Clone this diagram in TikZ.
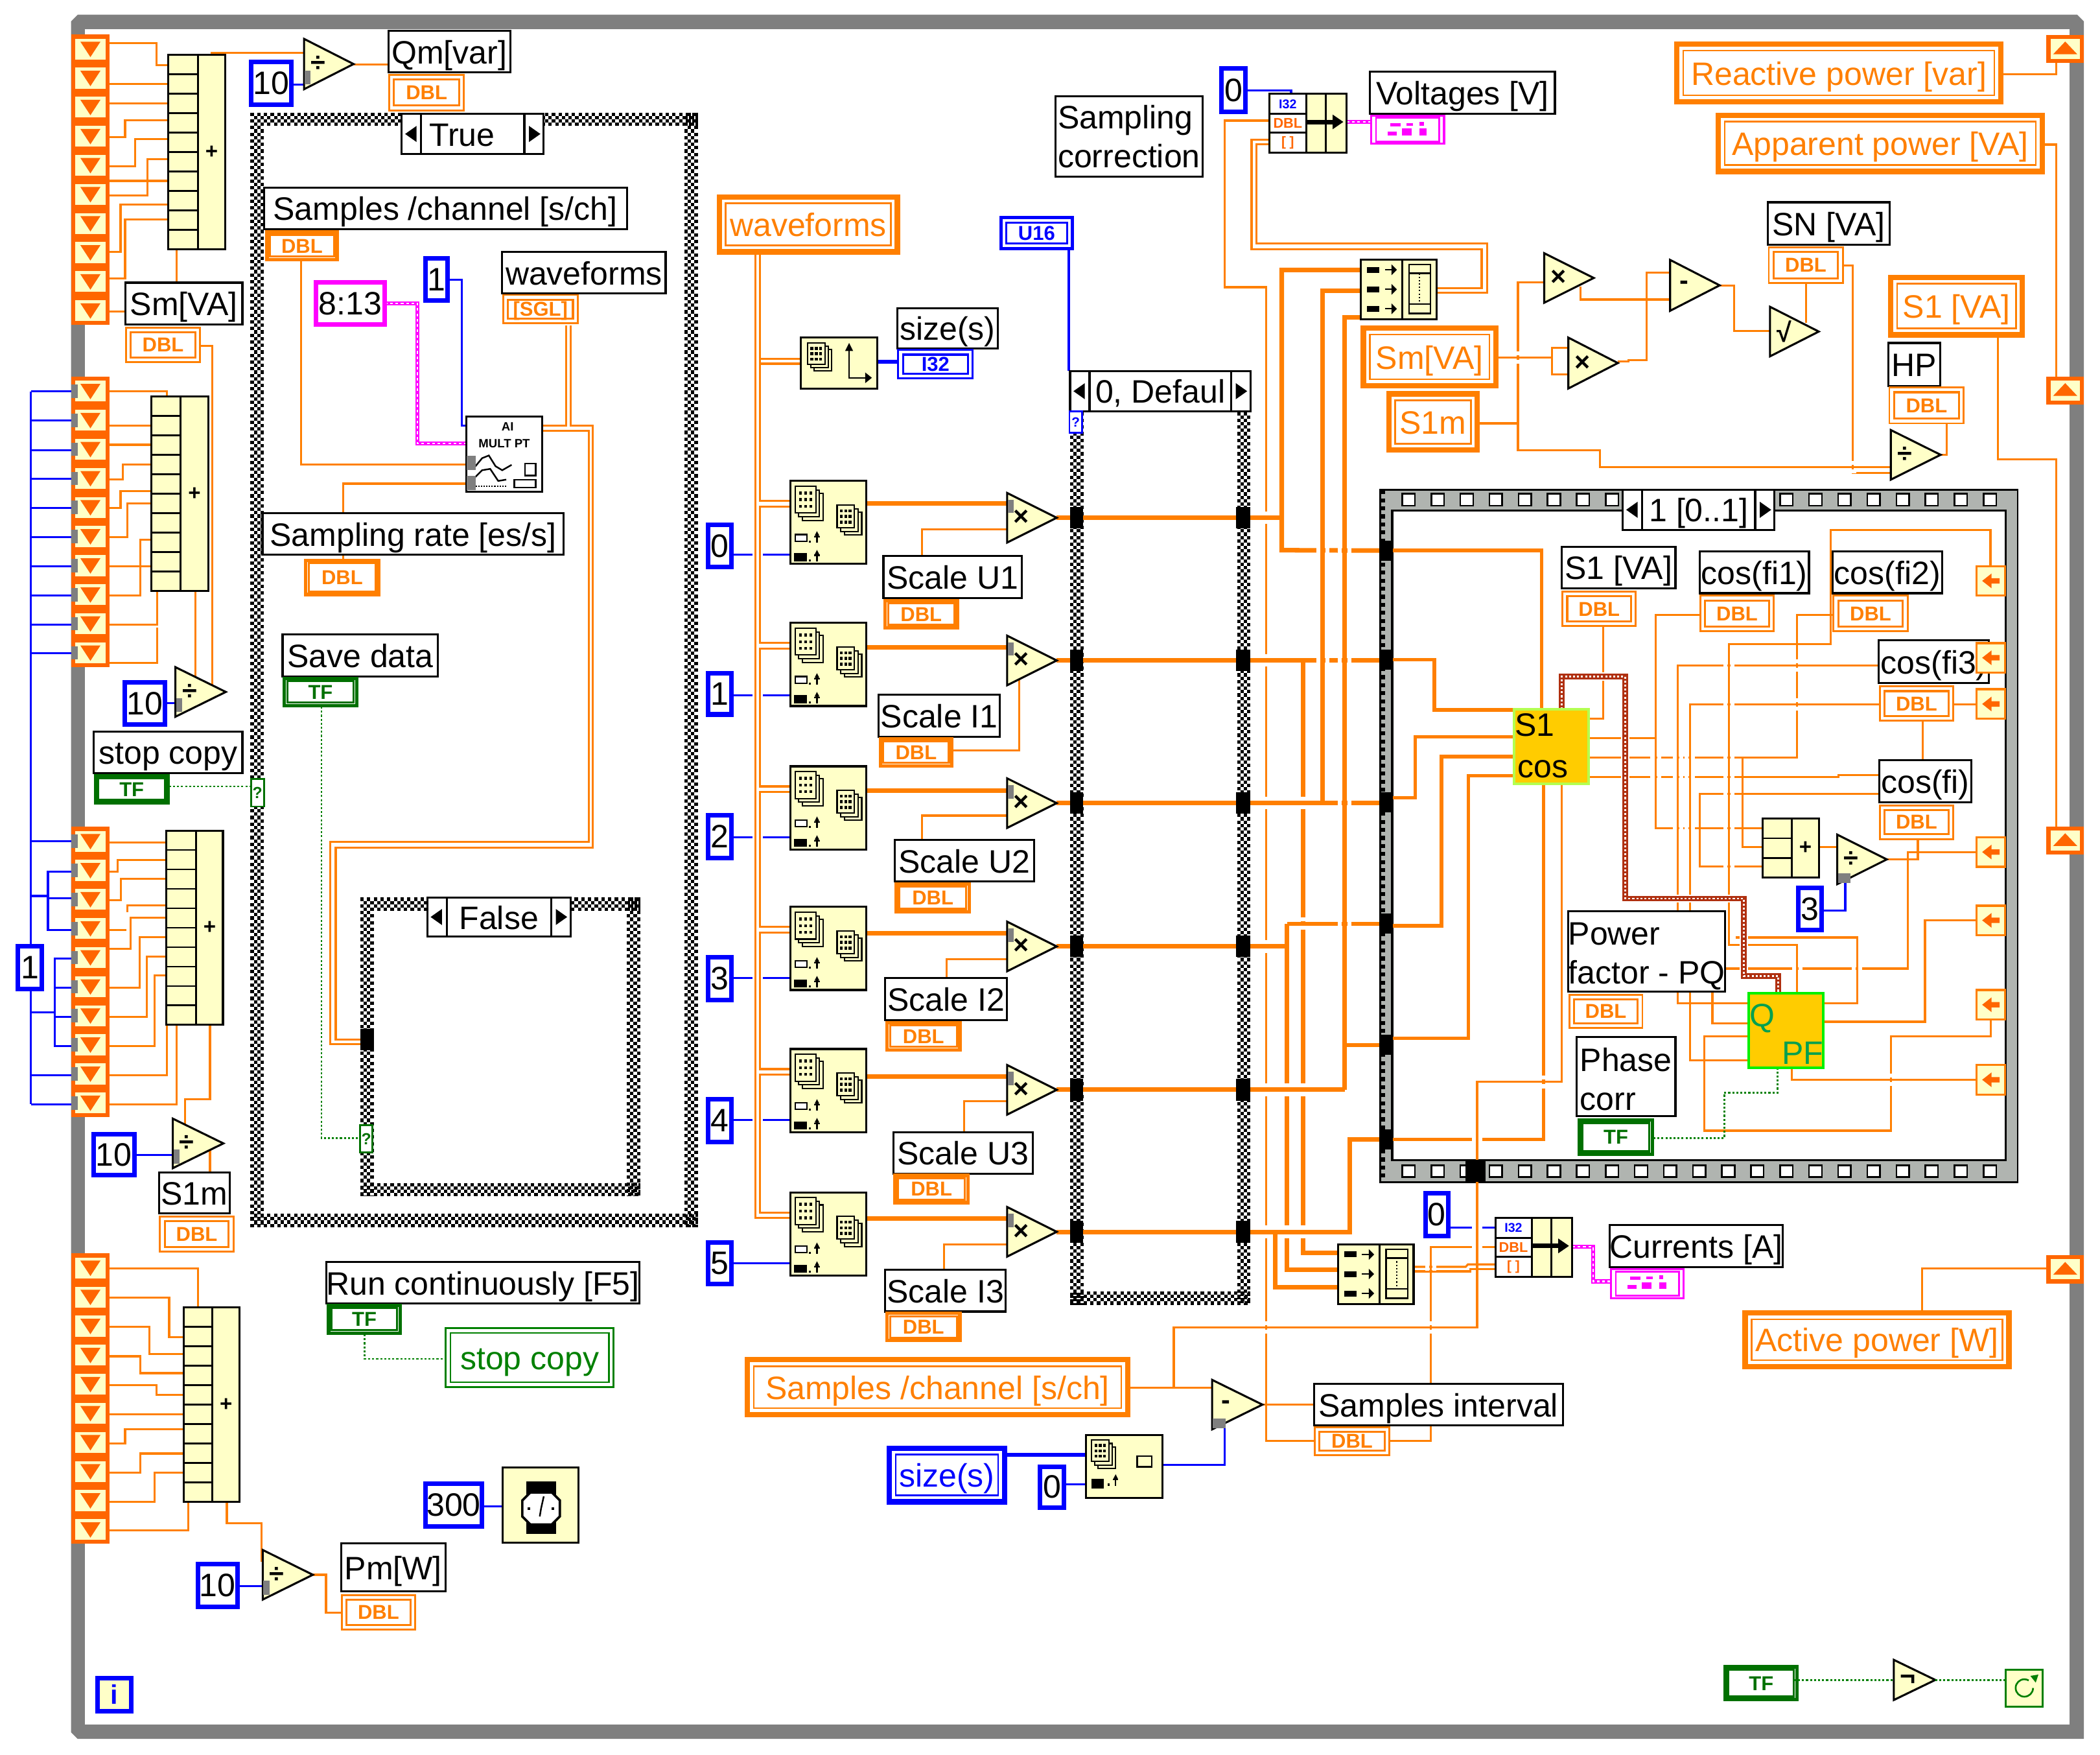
\documentclass[tikz,border=0pt]{standalone}
\usepackage{fontspec}
\setmainfont{Liberation Sans}
\usetikzlibrary{calc}
\pgfdeclarelayer{bgl}\pgfdeclarelayer{wires}
\pgfsetlayers{bgl,wires,main}
\definecolor{wo}{HTML}{FF7F00}
\definecolor{ro}{HTML}{FF6600}
\definecolor{yl}{HTML}{FFFFC8}
\definecolor{frm}{HTML}{7F7F7F}
\definecolor{sqg}{HTML}{B0B4B0}
\definecolor{gold}{HTML}{FFCC00}
\definecolor{lime}{HTML}{B4FF50}
\definecolor{grn}{HTML}{00F000}
\definecolor{teal2}{HTML}{00A050}
\definecolor{dgrn}{HTML}{007000}
\definecolor{mgrn}{HTML}{008000}
\definecolor{bluew}{HTML}{0000FF}
\definecolor{magw}{HTML}{FF00FF}
\definecolor{brn}{HTML}{B03010}
\tikzset{
 lab/.style={draw=black,line width=1.5pt,fill=white,text=black,align=left,font=\fontsize{24.2}{29}\selectfont},
 lab1/.style={draw=black,line width=1.5pt,fill=white,text=black,text height=18pt,text depth=0pt,font=\fontsize{24.2}{29}\selectfont},
 num/.style={draw=bluew,line width=3.4pt,fill=white,text=black,font=\fontsize{24.2}{29}\selectfont},
 tagin/.style={line width=1.5pt,fill=white,text height=10.5pt,text depth=0pt,font=\bfseries\fontsize{15}{16}\selectfont},
 ctlin/.style={line width=1.2pt,fill=white,text height=18pt,text depth=0pt,font=\fontsize{24.2}{29}\selectfont},
 iconb/.style={draw=black,line width=1.5pt,fill=yl},
 tun/.style={fill=black},
 wt/.style={draw=wo,line width=1.5pt},
 wm/.style={draw=wo,line width=2.7pt},
 wk/.style={draw=wo,line width=3.4pt},
 wb/.style={draw=bluew,line width=1.5pt},
 wbk/.style={draw=bluew,line width=2.6pt},
 wg/.style={draw=mgrn,line width=1.3pt,dash pattern=on 1.5pt off 1.5pt},
 wmag/.style={draw=magw,line width=3pt,postaction={draw=white,line width=1pt,dash pattern=on 2pt off 2pt}},
 wbrn/.style={preaction={draw=white,line width=6pt},draw=brn,line width=4.2pt,postaction={draw=white,line width=1.3pt,dash pattern=on 1.5pt off 1.5pt}},
}
\newcommand\nbox[7]{%
 \pgfmathsetmacro\nW{(#5)-(#3)}\pgfmathsetmacro\nH{(#6)-(#4)}%
 \pgfmathsetmacro\nX{((#3)+(#5))/2}\pgfmathsetmacro\nY{((#4)+(#6))/2}%
 \node[#1,minimum width=\nW pt,minimum height=\nH pt,inner sep=0pt,outer sep=0pt] (#2) at (\nX,\nY) {#7};}
\newcommand\lab[6]{\nbox{lab1}{#1}{#2}{#3}{#4}{#5}{#6}}
\newcommand\labm[6]{\nbox{lab}{#1}{#2}{#3}{#4}{#5}{#6}}
\newcommand\numb[6]{\nbox{num}{#1}{(#2)+1.7}{(#3)+1.7}{(#4)-1.7}{(#5)-1.7}{#6}}
\def\tgap{2.8}
% style, outer width, name, x1,y1,x2,y2,text,colour
\newcommand\tgbase[9]{%
 \path[draw=#9,fill=white,line width=#2pt] ({#4+#2/2},{#5+#2/2}) rectangle ({#6-#2/2},{#7-#2/2});
 \nbox{#1,draw=#9,text=#9}{#3}{#4+#2+\tgap}{#5+#2+\tgap}{#6-#2-\tgap}{#7-#2-\tgap}{#8}}
\newcommand\tgt[6]{\tgbase{tagin,text=ro}{1.4}{#1}{#2}{#3}{#4}{#5}{#6}{wo}}
\newcommand\tgk[6]{{\def\tgap{0.9}\tgbase{tagin}{2.6}{#1}{#2}{#3}{#4}{#5}{#6}{wo}}}
\newcommand\tfk[6]{{\def\tgap{0.9}\tgbase{tagin}{2.6}{#1}{#2}{#3}{#4}{#5}{#6}{dgrn}}}
\newcommand\ctl[6]{\tgbase{ctlin}{4}{#1}{#2}{#3}{#4}{#5}{#6}{wo}}
% name,x1,y1,x2,y2,sym,greykind
\newcommand\tri[7]{%
 \pgfmathsetmacro\tM{(#3+#5)/2}%
 \draw[iconb] (#2,#3)--(#4,\tM)--(#2,#5)--cycle;
 \coordinate (#1-tip) at (#4,\tM);\coordinate (#1-w) at (#2,\tM);
 \node[inner sep=0pt,font=\bfseries\fontsize{20}{20}\selectfont] (#1) at ({#2+10.5},\tM) {#6};
 \ifnum#7=1 \fill[frm] (#2+0.5,{#5-14}) rectangle ({#2+5},{#5-3.5});\fi
 \ifnum#7=2 \fill[frm] (#2+0.5,{#3+5}) rectangle ({#2+5},{#3+15});\fi
 \ifnum#7=3 \fill[frm] (#2+0.5,{#5-8}) rectangle ({#2+10},{#5-1});\fi}
% name,x1,y1,xm,x2,y2,rows
\newcommand\addn[7]{%
 \nbox{iconb}{#1}{#2}{#3}{#5}{#6}{}
 \draw[black,line width=1.5pt] (#4,#3)--(#4,#6);
 \foreach \k in {1,...,#7}{\draw[black,line width=1.3pt] (#2,{#3+(#6-#3)*\k/#7})--(#4,{#3+(#6-#3)*\k/#7});}
 \node[inner sep=0pt,font=\bfseries\fontsize{16}{16}\selectfont] (#1-p) at ({(#4+#5)/2},{(#3+#6)/2}) {+};}
% prefix, ytop, grey
\newcommand\regs[3]{%
 \nbox{fill=ro}{#1}{53}{#2}{82}{#2+217}{}
 \foreach \i in {0,...,9}{%
  \pgfmathsetmacro\cy{#2+11+21.7*\i}%
  \nbox{fill=yl}{#1c\i}{56}{\cy-7.8}{79}{\cy+7.8}{}
  \fill[ro] (60,\cy-5.5)--(75,\cy-5.5)--(67.5,\cy+6)--cycle;
  \ifnum#3=1 \fill[frm] (53,\cy-5)--(58,\cy-5)--(58,\cy+5)--(53,\cy+5)--cycle;\fi}}
\newcommand\stackg[5]{% x,y,w,h,offset
 \foreach \d in {2,1,0}{\draw[black,line width=1pt,fill=yl] ({#1+\d*#5},{#2+\d*#5}) rectangle ({#1+\d*#5+#3},{#2+\d*#5+#4});}
 \foreach \a in {1,2,3}{\foreach \b in {1,2,3}{\fill[black] ({#1+#3*\a/4-1.1},{#2+#4*\b/4-1.1}) rectangle ({#1+#3*\a/4+1.1},{#2+#4*\b/4+1.1});}}}
\newcommand\arrv[2]{\draw[black,line width=1pt] (#1,#2)--(#1,{#2+7}) ({#1-2},{#2+2.5})--({#1+2},{#2+2.5}); \fill[black] ({#1-1.8},{#2+2})--(#1,{#2-1.5})--({#1+1.8},{#2+2})--cycle;\fill[black] ({#1-6},{#2+5.5}) rectangle ({#1-4.6},{#2+7});}
\newcommand\idxicon[3]{%
 \nbox{iconb}{#1}{#2}{#3}{#2+57}{#3+62}{}
 \stackg{#2+3.7}{#3+4}{15.5}{20}{2.7}
 \stackg{#2+35}{#3+18}{13}{17}{2.7}
 \draw[black,line width=1pt,fill=white] ({#2+3.7},{#3+40}) rectangle ({#2+12.4},{#3+45});
 \arrv{#2+20}{#3+39}
 \fill[black] ({#2+3},{#3+54}) rectangle ({#2+12.4},{#3+60});
 \arrv{#2+20}{#3+53}}
\newcommand\bldicon[3]{%
 \nbox{iconb}{#1}{#2}{#3}{#2+56.5}{#3+44.5}{}
 \draw[black,line width=1.5pt] ({#2+31},#3)--({#2+31},{#3+44.5});
 \foreach \r in {7.4,22,36.5}{\fill[black] ({#2+4.8},{#3+\r-2.2}) rectangle ({#2+14},{#3+\r+2.2});
  \fill[black] ({#2+23},{#3+\r-4})--({#2+27},{#3+\r})--({#2+23},{#3+\r+4})--cycle;\draw[black,line width=1pt] ({#2+18},{#3+\r})--({#2+24},{#3+\r});}
 \draw[black,line width=1.2pt] ({#2+36},{#3+3.5}) rectangle ({#2+52},{#3+40});
 \draw[black,line width=1.2pt] ({#2+36},{#3+10})--({#2+52},{#3+10}) ({#2+36},{#3+33})--({#2+52},{#3+33});
 \draw[black,line width=1pt,dash pattern=on 1pt off 1.5pt] ({#2+44},{#3+10})--({#2+44},{#3+33});}
\newcommand\bunicon[5]{% name,x,y,output y base, dummy
 \nbox{iconb}{#1}{#2}{#3}{#2+57.5}{#3+44}{}
 \fill[white] (#2+0.8,#3+0.8) rectangle ({#2+27},{#3+43.2});
 \draw[black,line width=1.5pt] ({#2+27.4},#3)--({#2+27.4},{#3+44}) ({#2+42},#3)--({#2+42},{#3+44});
 \draw[black,line width=1.3pt] (#2,{#3+15})--({#2+27.4},{#3+15}) (#2,{#3+29})--({#2+27.4},{#3+29});
 \node[inner sep=0pt,text=bluew,font=\bfseries\fontsize{9.5}{9}\selectfont] (#1-i) at ({#2+13.5},{#3+7.7}) {I32};
 \node[inner sep=0pt,text=ro,font=\bfseries\fontsize{10.5}{9}\selectfont] (#1-d) at ({#2+13.5},{#3+22}) {DBL};
 \node[inner sep=0pt,text=ro,font=\bfseries\fontsize{10}{9}\selectfont] (#1-a) at ({#2+13.5},{#3+36.5}) {[ ]};
 \draw[black,line width=3.4pt] ({#2+27},{#3+21})--({#2+49},{#3+21});
 \fill[black] ({#2+47},{#3+15.5})--({#2+55},{#3+21})--({#2+47},{#3+26.5})--cycle;}
\newcommand\selbox[6]{%
 \nbox{lab1}{#1}{#2}{#3}{#4}{#5}{#6}
 \draw[black,line width=1.5pt] ({#2+14.5},#3)--({#2+14.5},#5) ({#4-14.5},#3)--({#4-14.5},#5);
 \fill[black] ({#2+11},{(#3+#5)/2-6})--({#2+2.5},{(#3+#5)/2})--({#2+11},{(#3+#5)/2+6})--cycle;
 \fill[black] ({#4-11},{(#3+#5)/2-6})--({#4-2.5},{(#3+#5)/2})--({#4-11},{(#3+#5)/2+6})--cycle;}
\newcommand\outT[3]{% name,y1,y2
 \nbox{draw=wo,line width=1.6pt,fill=yl}{#1}{1475.8}{#2}{1497}{#3}{}
 \fill[ro] (1480,{(#2+#3)/2})--(1487,{(#2+#3)/2-5.5})--(1487,{(#2+#3)/2-2})--(1493,{(#2+#3)/2-2})--(1493,{(#2+#3)/2+2})--(1487,{(#2+#3)/2+2})--(1487,{(#2+#3)/2+5.5})--cycle;}
\newcommand\upT[3]{%
 \nbox{draw=ro,line width=3pt,fill=yl}{#1}{1529.5}{#2+1.5}{1554.5}{#3-1.5}{}
 \fill[ro] (1533,{#3-6.5})--(1542,{#2+5})--(1551,{#3-6.5})--cycle;}
\newcommand\hatchf[4]{%
 \fill[white] (#1,#2) rectangle (#3,#4);
 \foreach \k/\p in {0/0,1/2.5,2/0,3/2.5}{%
  \draw[black,line width=2.5pt,dash pattern=on 2.5pt off 2.5pt,dash phase=\p pt] (#1,{#2+1.25+2.5*\k})--(#3,{#2+1.25+2.5*\k});
  \draw[black,line width=2.5pt,dash pattern=on 2.5pt off 2.5pt,dash phase=\p pt] (#1,{#4-1.25-2.5*\k})--(#3,{#4-1.25-2.5*\k});
  \draw[black,line width=2.5pt,dash pattern=on 2.5pt off 2.5pt,dash phase=\p pt] ({#1+1.25+2.5*\k},#2)--({#1+1.25+2.5*\k},#4);
  \draw[black,line width=2.5pt,dash pattern=on 2.5pt off 2.5pt,dash phase=\p pt] ({#3-1.25-2.5*\k},#2)--({#3-1.25-2.5*\k},#4);}}
\newcommand\wavg[2]{%
 \fill[magw] ({#1+15},{#2+7}) rectangle ({#1+23},{#2+9.5});
 \fill[magw] ({#1+27},{#2+7}) rectangle ({#1+32},{#2+9});
 \fill[magw] ({#1+37},{#2+6}) rectangle ({#1+40},{#2+9});
 \fill[magw] ({#1+13},{#2+13}) rectangle ({#1+20},{#2+16});
 \fill[magw] ({#1+24},{#2+11}) rectangle ({#1+31},{#2+16});
 \fill[magw] ({#1+37},{#2+11}) rectangle ({#1+42},{#2+16});}
\newcommand\cutH[2]{\foreach \x/\y in {#2}{\fill[white] ({\x-#1-3},{\y-3}) rectangle ({\x-#1},{\y+3}); \fill[white] ({\x+#1},{\y-3}) rectangle ({\x+#1+3},{\y+3});}}
\newcommand\cutV[2]{\foreach \x/\y in {#2}{\fill[white] ({\x-3},{\y-#1-3}) rectangle ({\x+3},{\y-#1}); \fill[white] ({\x-3},{\y+#1}) rectangle ({\x+3},{\y+#1+3});}}
\begin{document}
\begin{tikzpicture}[x=1pt,y=-1pt]
\useasboundingbox (0,0) rectangle (1568,1309.6);
\begin{pgfonlayer}{bgl}
 \fill[white] (0,0) rectangle (1568,1309.6);
 \fill[frm] (58,11)--(1551,11)--(1556,16)--(1556,1298)--(58,1298)--(53,1293)--(53,16)--cycle;
 \fill[white] (63.5,22) rectangle (1545,1287.4);
 % case structures
 \hatchf{187}{84}{521}{916}
 \hatchf{269}{670}{478}{893}
 \hatchf{799}{290}{933.7}{974}
 % sequence
 \draw[black,line width=1.4pt,fill=sqg] (1030.5,365.5) rectangle (1506.5,882.5);
 \draw[black,line width=1.5pt,fill=white] (1039.5,381) rectangle (1497.5,866);
 \draw[black,line width=3pt,dash pattern=on 3pt off 3pt] (1032.5,366)--(1032.5,882);
 \foreach \k in {0,...,20}{
  \draw[black,line width=1.2pt,fill=white] ({1047+21.7*\k},368.5) rectangle ({1056.5+21.7*\k},377.5);
  \draw[black,line width=1.2pt,fill=white] ({1047+21.7*\k},870) rectangle ({1056.5+21.7*\k},878.5);}
\end{pgfonlayer}

% ------- shift registers
\regs{ra}{25.6}{0}
\regs{rb}{281}{1}
\regs{rc}{617}{1}
\regs{rd}{935.5}{0}
\addn{adda}{125.5}{41}{148}{168}{186}{10}
\addn{addb}{113}{296}{134.8}{155.5}{441}{10}
\addn{addc}{124}{620}{146.6}{166.5}{765}{10}
\addn{addd}{137}{976}{158.5}{179}{1121}{10}
\addn{adde}{1316}{611}{1338}{1358}{655}{3}
% ------- triangles
\tri{da}{227}{29}{264}{66.6}{÷}{1}
\tri{db}{131}{498}{168.6}{535}{÷}{1}
\tri{dc}{129}{835}{166.8}{872}{÷}{1}
\tri{dd}{196.2}{1157}{233.6}{1194}{÷}{1}
\tri{de}{1411.8}{321}{1449}{358}{÷}{0}
\tri{df}{1371.8}{623}{1408.8}{660}{÷}{3}
\tri{ma}{752}{368}{789}{405}{×}{2}
\tri{mb}{752}{474.5}{789}{511.5}{×}{2}
\tri{mc}{752}{581}{789}{618}{×}{2}
\tri{md}{752}{688}{789}{725}{×}{2}
\tri{me}{752}{795}{789}{832}{×}{2}
\tri{mf}{752}{901}{789}{938}{×}{2}
\tri{mg}{1153}{189}{1190}{226}{×}{0}
\tri{mh}{1171}{252}{1208}{290}{×}{0}
\tri{sa}{1247}{194}{1284}{232}{-}{0}
\tri{sq}{1321.6}{229}{1358}{266}{√}{0}
\tri{sb}{905}{1030}{942.6}{1067}{-}{3}
\tri{nt}{1414}{1239}{1445}{1269}{¬}{0}
% ------- constants
\numb{ka}{186}{44.4}{219}{80}{10}
\numb{kb}{91.5}{507.5}{125}{542.5}{10}
\numb{kc}{68}{845}{102}{879}{10}
\numb{kd}{146}{1166}{179}{1201}{10}
\numb{ke}{11.5}{704.6}{33}{740}{1}
\numb{kf}{316}{191}{336}{226}{1}
\numb{kg}{316}{1106}{361.6}{1141}{300}
\numb{c0}{527}{390}{548}{425}{0}
\numb{c1}{527}{501}{548}{535}{1}
\numb{c2}{527}{607}{548}{642}{2}
\numb{c3}{527}{713}{548}{748}{3}
\numb{c4}{527}{819}{548}{854}{4}
\numb{c5}{527}{926}{548}{960}{5}
\numb{kh}{910.5}{49.5}{931.5}{85}{0}
\numb{ki}{1062.5}{889}{1083}{924.5}{0}
\numb{kj}{775}{1093}{796}{1127}{0}
\numb{kk}{1341}{661}{1362}{696}{3}
\nbox{draw=magw,line width=3.4pt,fill=white,font=\fontsize{24.2}{29}\selectfont}{kl}{235.7}{210.7}{287.3}{242.3}{8:13}
\tgbase{tagin}{2.6}{ku}{746}{161}{802}{187}{U16}{bluew}
\nbox{draw=bluew,line width=3.4pt,fill=yl,text=bluew,font=\bfseries\fontsize{20}{20}\selectfont}{iter}{73}{1252.7}{98}{1277.3}{i}
% ------- labels
\lab{qm}{290}{23}{381}{54}{Qm[var]}
\tgt{qmd}{290}{55}{347}{83}{DBL}
\selbox{st}{300}{85}{406}{115}{True\kern16pt}
\lab{sp}{197}{140}{468}{171}{Samples /channel [s/ch]}
\tgk{spd}{198}{172}{253}{195}{DBL}
\lab{wf}{375}{188}{497}{219}{waveforms}
\tgt{wfd}{375}{219.5}{432}{242}{[SGL]}
\lab{sr}{196}{383}{421}{414}{Sampling rate [es/s]}
\tgk{srd}{227}{417}{284}{445}{DBL}
\lab{smv}{93.5}{211}{181}{242}{Sm[VA]}
\tgt{smd}{93.5}{244}{150}{271}{DBL}
\lab{sd}{211}{473.5}{327}{505}{Save data}
\tfk{sdt}{211}{505}{267.6}{528}{TF}
\lab{sc}{70}{546}{181}{577}{stop copy}
\tfk{sct}{70}{577.6}{126.7}{600.5}{TF}
\lab{s1l}{118.8}{875}{171.4}{905.6}{S1m}
\tgt{s1d}{118.8}{907.5}{175}{935}{DBL}
\selbox{fa}{319}{670}{426}{699}{False}
\lab{run}{244}{942}{477}{973}{Run continuously [F5]}
\tfk{runt}{244}{973}{300}{996.5}{TF}
\tgbase{ctlin}{1.5}{scg}{332}{990.6}{459}{1036}{stop copy}{mgrn}
\lab{pm}{254.6}{1152}{332.7}{1188}{Pm[W]}
\tgt{pmd}{254.6}{1190}{310.6}{1217}{DBL}
\ctl{wfo}{535}{145}{672}{190}{waveforms}
\lab{szl}{670}{230}{745}{260}{size(s)}
\tgbase{tagin}{1.4}{szd}{670}{260.5}{727}{283}{I32}{bluew}
\lab{su1}{659.6}{415}{763}{446.5}{Scale U1}
\tgk{su1d}{659.6}{447}{716}{470}{DBL}
\lab{si1}{656}{518.5}{746.6}{550}{Scale I1}
\tgk{si1d}{656}{550}{712}{573}{DBL}
\lab{su2}{668}{627}{772}{658}{Scale U2}
\tgk{su2d}{668}{658.5}{725}{682}{DBL}
\lab{si2}{661}{730}{752}{761.5}{Scale I2}
\tgk{si2d}{661}{762}{718}{785}{DBL}
\lab{su3}{667}{845}{771}{876}{Scale U3}
\tgk{su3d}{667}{876}{724}{899}{DBL}
\lab{si3}{661}{948}{751}{979}{Scale I3}
\tgk{si3d}{661}{979}{718}{1002}{DBL}
\selbox{ca}{799}{277}{933.7}{307}{0, Defaul}
\nbox{draw=bluew,line width=1.4pt,fill=white,text=bluew,font=\bfseries\fontsize{10}{10}\selectfont}{caq}{798.5}{307}{808}{323}{?}
\nbox{draw=dgrn,line width=1.4pt,fill=white,text=dgrn,font=\bfseries\fontsize{12}{12}\selectfont}{sq1}{187.5}{581.5}{197}{602}{?}
\nbox{draw=dgrn,line width=1.4pt,fill=white,text=dgrn,font=\bfseries\fontsize{12}{12}\selectfont}{sq2}{269}{840}{278}{860}{?}
\labm{corr}{788}{72}{898}{132}{Sampling\\correction}
\lab{vl}{1023}{53.5}{1161}{85}{Voltages [V]}
\tgbase{ctlin}{1.6}{vw}{1023}{85.5}{1079}{108}{}{magw}
\wavg{1023}{85}
\ctl{rp}{1250}{31}{1496}{78}{Reactive power [var]}
\ctl{ap}{1281}{84}{1526.8}{130}{Apparent power [VA]}
\ctl{smo}{1016}{243}{1119}{290}{Sm[VA]}
\ctl{s1o}{1035}{292}{1105}{338}{S1m}
\lab{sn}{1320}{151}{1411}{182.5}{SN [VA]}
\tgt{snd}{1320}{184}{1376.6}{212}{DBL}
\ctl{s1v}{1409.7}{205}{1512}{252}{S1 [VA]}
\lab{hp}{1410}{256}{1448.6}{288}{HP}
\tgt{hpd}{1410}{288.6}{1467}{316.7}{DBL}
\ctl{act}{1301}{978}{1502}{1022}{Active power [W]}
\ctl{smpo}{556}{1013}{844}{1058}{Samples /channel [s/ch]}
\tgbase{ctlin,text=bluew}{4}{szo}{662}{1079}{752}{1123}{size(s)}{bluew}
\lab{si}{981}{1033}{1167}{1064}{Samples interval}
\tgt{sid}{981}{1064.5}{1038}{1087}{DBL}
\lab{cu}{1202}{914.5}{1331}{946}{Currents [A]}
\tgbase{ctlin}{1.6}{cw}{1202}{946.4}{1258}{970}{}{magw}
\wavg{1202}{946}
\tfk{tfe}{1287}{1243}{1343}{1270}{TF}
% ------- icons
\foreach \nn/\yy in {ia/359,ib/465,ic/572,id/677,ie/783,if/890}{\idxicon{\nn}{590}{\yy}}
\nbox{iconb}{asz}{598}{252}{655}{290}{}
\stackg{603}{256}{13}{16}{2.5}
\draw[black,line width=1pt] (634,258)--(634,282)--(648,282);
\fill[black] (646,278)--(651,282)--(646,286)--cycle;
\fill[black] (631,262)--(634,256)--(637,262)--cycle;
\nbox{iconb}{isz}{811}{1071}{868}{1118}{}
\stackg{815}{1075}{13}{16}{2.5}
\fill[black] (815,1104) rectangle (824,1111);
\arrv{833}{1102}
\draw[black,line width=1.3pt] (849,1087) rectangle (860,1095);
\bldicon{baa}{1016}{194}
\bldicon{bab}{999}{929}
\bunicon{bua}{948}{70}{}{}
\bunicon{bub}{1116.5}{909}{}{}
% AI
\nbox{draw=black,line width=1.5pt,fill=white}{ai}{348}{311}{405}{367}{}
\node[inner sep=0pt,font=\bfseries\fontsize{9}{9}\selectfont] (ai-a) at (379,318.5) {AI};
\node[inner sep=0pt,font=\bfseries\fontsize{9}{9}\selectfont] (ai-b) at (376.5,331) {MULT PT};
\draw[black,line width=1.2pt] (355,348)--(360,342)--(365,340)--(370,348)--(375,351)--(382,347);
\draw[black,line width=1.2pt] (355,356)--(360,351)--(366,350)--(372,359)--(378,358);
\draw[black,line width=1pt,dash pattern=on 1pt off 1pt] (355,363)--(378,363);
\draw[black,line width=1.2pt] (392,346) rectangle (400,355);
\draw[black,line width=1.2pt] (384,358) rectangle (400,364);
\fill[frm] (348.5,340)--(355,340)--(355,351)--(348.5,351)--cycle;
\fill[frm] (348.5,355)--(355,355)--(355,366)--(348.5,366)--cycle;
% wait
\nbox{iconb}{wt}{375.5}{1095.5}{432}{1151.7}{}
\fill[black] (393,1106) rectangle (415,1116);
\fill[black] (393,1136) rectangle (415,1145);
\draw[black,line width=1.8pt,fill=white] (396,1114)--(412,1114)--(418,1120)--(418,1132)--(412,1138)--(396,1138)--(390,1132)--(390,1120)--cycle;
\draw[black,line width=1.2pt] (404,1126)--(406,1117) (404,1126)--(403,1132);
\fill[black] (394,1125) rectangle (396,1127); \fill[black] (412,1125) rectangle (414,1127);
% stop
\nbox{draw=mgrn,line width=1.4pt,fill=yl}{stp}{1497.5}{1246.5}{1525}{1274}{}
\draw[mgrn,line width=1.3pt] (1518,1260) arc (0:300:6.5);
\fill[mgrn] (1516,1251)--(1522,1250)--(1520,1256)--cycle;
% ------- sequence content
\selbox{sel}{1211.7}{365.5}{1325}{395.6}{1 [0..1]}
\lab{s1i}{1166}{408}{1251}{439}{S1 [VA]}
\tgt{s1id}{1166}{441}{1222}{468}{DBL}
\lab{f1}{1269}{411.6}{1350.7}{442.8}{cos(fi1)}
\tgt{f1d}{1269}{444}{1325}{472}{DBL}
\lab{f2}{1368.3}{411.6}{1450}{442.8}{cos(fi2)}
\tgt{f2d}{1368.3}{444}{1425}{472}{DBL}
\lab{f3}{1402.8}{478}{1485}{510}{cos(fi3)}
\tgt{f3d}{1403}{511.7}{1459}{538.7}{DBL}
\lab{f0}{1403}{567.4}{1472}{598.7}{cos(fi)}
\tgt{f0d}{1403}{600.4}{1459}{627}{DBL}
\nbox{draw=lime,line width=2pt,fill=gold}{sca}{1130.5}{529.5}{1186}{585}{}
\node[inner sep=0pt,font=\fontsize{24.2}{29}\selectfont] (sca-a) at (1146,541) {S1};
\node[inner sep=0pt,font=\fontsize{24.2}{29}\selectfont] (sca-b) at (1152,574) {cos};
\nbox{draw=grn,line width=2pt,fill=gold}{qpf}{1305.5}{741.5}{1361.5}{797}{}
\node[inner sep=0pt,text=teal2,font=\fontsize{24.2}{29}\selectfont] (qpf-a) at (1316,760) {Q};
\node[inner sep=0pt,text=teal2,font=\fontsize{24.2}{29}\selectfont] (qpf-b) at (1346,786) {PF};
\labm{pf}{1171}{680}{1288}{740}{\rule{0pt}{24pt}Power\\factor - PQ}
\tgt{pfd}{1171}{741.7}{1227}{768}{DBL}
\labm{pc}{1177}{774}{1251}{833.3}{\rule{0pt}{21pt}Phase\\corr}
\tfk{pct}{1178}{834.7}{1235}{863}{TF}
\outT{oa}{422.6}{444.6}
\outT{ob}{480}{502}
\outT{oc}{514.5}{536.5}
\outT{od}{625}{647}
\outT{oe}{676}{698}
\outT{og}{739}{761}
\outT{oh}{795}{817}
\upT{ua}{26}{47}
\upT{ub}{281}{302}
\upT{uc}{617}{638}
\upT{ud}{937}{958}
% ------- tunnels
\foreach \nn/\yy in {a/386.5,b/493,c/599.5,d/706.5,e/813.5,f/919.5}{
 \nbox{tun}{tl\nn}{799}{\yy-8}{808.7}{\yy+8}{}
 \nbox{tun}{tr\nn}{923}{\yy-8}{933.7}{\yy+8}{}}
\foreach \nn/\yy in {a/411,b/492.5,c/599,d/689.5,e/780,f/850.5}{
 \nbox{tun}{ts\nn}{1030}{\yy-7.5}{1040}{\yy+7.5}{}}
\nbox{tun}{tsz}{1094}{866}{1109}{882}{}
\nbox{tun}{tfa}{269}{768}{279}{784}{}

% ======= WIRES
\begin{pgfonlayer}{wires}
% group a
\draw[wt] (rac0.east|-0,32)--(117,32)--(117,48.6)--(adda.west|-0,48.6);
\draw[wt] (rac1.east|-0,62.8)--(adda.west|-0,62.8);
\draw[wt] (rac2.east|-0,77)--(adda.west|-0,77);
\draw[wt] (rac3.east|-0,102.5)--(93.4,102.5)--(93.4,89.7)--(adda.west|-0,89.7);
\draw[wt] (rac4.east|-0,124)--(101,124)--(101,104)--(adda.west|-0,104);
\draw[wt] (rac5.east|-0,135)--(adda.west|-0,135);
\draw[wt] (rac5.east|-0,146)--(110,146)--(110,118.6)--(adda.west|-0,118.6);
\draw[wt] (rac7.east|-0,188)--(90,188)--(90,152.8)--(adda.west|-0,152.8);
\draw[wt] (rac8.east|-0,208)--(93.4,208)--(93.4,164)--(adda.west|-0,164);
\draw[wt] (rac9.east|-0,232.5)--(smv.west|-0,232.5);
\draw[wt] (adda.north-|158,0)--(158,39.4)--(da-w|-0,39.4);
\draw[wt] (adda.south-|131.7,0)--(smv.north-|131.7,0);
\draw[wb] (ka.east|-0,63)--(da-w|-0,63);
\draw[wt] (da-tip|-0,48)--(qm.west|-0,48);
\draw[wt] (smd.east|-0,258)--(158.7,258)--(158.7,512);
% group b
\foreach \yy in {292.2,314,336,357.5,379,401,422.6,444.5,466.2,487.6}{\draw[wb] (23,\yy)--(rb.west|-0,\yy);}
\draw[wb] (23,292.2)--(23,824.2);
\draw[wt] (rbc0.east|-0,292.2)--(124.6,292.2)--(addb.north-|124.6,0);
\draw[wt] (rbc1.east|-0,317.5)--(addb.west|-0,317.5);
\draw[wt] (rbc2.east|-0,332)--(addb.west|-0,332);
\draw[wt] (rbc3.east|-0,357.8)--(91.7,357.8)--(91.7,346.7)--(addb.west|-0,346.7);
\draw[wt] (rbc4.east|-0,379)--(90,379)--(90,366.7)--(addb.west|-0,366.7);
\draw[wt] (rbc5.east|-0,401)--(95,401)--(95,375.6)--(addb.west|-0,375.6);
\draw[wt] (rbc6.east|-0,422.6)--(addb.west|-0,422.6);
\draw[wt] (rbc7.east|-0,444.5)--(104.6,444.5)--(104.6,402.8)--(addb.west|-0,402.8);
\draw[wt] (rbc8.east|-0,466.2)--(117.2,466.2)--(addb.south-|117.2,0);
\draw[wt] (rbc9.east|-0,495)--(117.2,495)--(117.2,468.5);
\draw[wt] (addb.south-|146,0)--(146,506);
\draw[wb] (kb.east|-0,525)--(db-w|-0,525);
\draw[wg] (sct.east|-0,587)--(sq1.west|-0,587);
% group c
\draw[wb] (23,627.8)--(rc.west|-0,627.8);
\draw[wb] (23,668.8)--(35.8,668.8);
\draw[wb] (rc.west|-0,650.7)--(35.8,650.7)--(35.8,694)--(rc.west|-0,694);
\draw[wb] (35.8,670.5)--(rc.west|-0,670.5);
\draw[wb] (23,755.6)--(41,755.6);
\draw[wb] (rc.west|-0,715.7)--(41,715.7)--(41,780.8)--(rc.west|-0,780.8);
\draw[wb] (41,737.5)--(rc.west|-0,737.5);
\draw[wb] (41,759)--(rc.west|-0,759);
\draw[wb] (23,802.5)--(rc.west|-0,802.5);
\draw[wb] (23,824.2)--(rc.west|-0,824.2);
\draw[wt] (rcc0.east|-0,629)--(addc.west|-0,629);
\draw[wt] (rcc1.east|-0,650.7)--(87.8,650.7)--(87.8,641.8)--(addc.west|-0,641.8);
\draw[wt] (rcc2.east|-0,671.8)--(90.3,671.8)--(90.3,656.2)--(addc.west|-0,656.2);
\draw[wt] (rcc3.east|-0,694)--(94.4,694);
\draw[wt] (95.1,681)--(95.1,676)--(addc.west|-0,676);
\draw[wt] (rcc4.east|-0,708.4)--(97.3,708.4)--(97.3,684.9)--(addc.west|-0,684.9);
\draw[wt] (rcc5.east|-0,737.4)--(104.4,737.4)--(104.4,699.6)--(addc.west|-0,699.6);
\draw[wt] (rcc6.east|-0,759.1)--(109.8,759.1)--(109.8,714)--(addc.west|-0,714);
\draw[wt] (rcc7.east|-0,780.8)--(115.3,780.8)--(115.3,728)--(addc.west|-0,728);
\draw[wt] (rcc8.east|-0,802.5)--(124.5,802.5)--(addc.south-|124.5,0);
\draw[wt] (rcc9.east|-0,824.2)--(131.7,824.2)--(addc.south-|131.7,0);
\draw[wt] (addc.south-|156.8,0)--(156.8,820.4)--(138.3,820.4)--(138.3,842);
\draw[wb] (kc.east|-0,862)--(dc-w|-0,862);
\draw[wt] (156.8,858)--(s1l.north-|156.8,0);
% group d
\draw[wt] (rdc0.east|-0,947)--(148,947)--(addd.north-|148,0);
\draw[wt] (rdc1.east|-0,968.8)--(126.3,968.8)--(126.3,998.2)--(addd.west|-0,998.2);
\draw[wt] (rdc2.east|-0,990.6)--(111.7,990.6)--(111.7,1010.5)--(addd.west|-0,1010.5);
\draw[wt] (rdc3.east|-0,1012.4)--(104.6,1012.4)--(104.6,1025)--(addd.west|-0,1025);
\draw[wt] (rdc4.east|-0,1034)--(117,1034)--(117,1041.3)--(addd.west|-0,1041.3);
\draw[wt] (rdc5.east|-0,1055.8)--(addd.west|-0,1055.8);
\draw[wt] (rdc6.east|-0,1077.6)--(93.4,1077.6)--(93.4,1067)--(addd.west|-0,1067);
\draw[wt] (rdc7.east|-0,1099.4)--(104.6,1099.4)--(104.6,1085)--(addd.west|-0,1085);
\draw[wt] (rdc8.east|-0,1121)--(115.4,1121)--(115.4,1099.2)--(addd.west|-0,1099.2);
\draw[wt] (rdc9.east|-0,1142.5)--(140.5,1142.5)--(addd.south-|140.5,0);
\draw[wt] (addd.south-|169.4,0)--(169.4,1137)--(195.2,1137)--(195.2,1166);
\draw[wb] (kd.east|-0,1184)--(dd-w|-0,1184);
\draw[wt] (dd-tip)--(243.4,1175.5)--(243.4,1204)--(pmd.west|-0,1204);
\draw[wb] (kg.east|-0,1124.3)--(wt.west|-0,1124.3);
\draw[wg] (runt.south-|272.3,0)--(272.3,1014.4)--(scg.west|-0,1014.4);
% true case
\draw[wt] (spd.south-|225,0)--(225,346.7)--(ai.west|-0,346.7);
\draw[wt] (sr.north-|256.3,0)--(256.3,361)--(ai.west|-0,361);
\draw[wt] (sr.south-|256.3,0)--(srd.north-|256.3,0);
\draw[wmag] (kl.east|-0,226.4)--(311.7,226.4)--(311.7,331)--(ai.west|-0,331);
\draw[wb] (kf.east|-0,209)--(344.6,209)--(344.6,317.5)--(ai.west|-0,317.5);
\draw[wt] (ai.east|-0,317.5)--(422.7,317.5)--(422.7,243);
\draw[wt] (426,243)--(426,317.5)--(442.4,317.5)--(442.4,632.8)--(250.7,632.8)--(250.7,775.8)--(tfa.west|-0,775.8);
\draw[wt] (ai.east|-0,321.4)--(439.6,321.4)--(439.6,628.4)--(246.7,628.4)--(246.7,779.4)--(tfa.west|-0,779.4);
\draw[wg] (sdt.south-|240,0)--(240,849.7)--(sq2.west|-0,849.7);
% index arrays
\foreach \nn/\c/\yy in {ia/c0/413.8,ib/c1/519,ic/c2/625,id/c3/730,ie/c4/836,if/c5/943}{\draw[wb] (\c.east|-0,\yy)--(\nn.west|-0,\yy);}
\foreach \yy in {413.8,519,625,730,836}{\fill[white] (562,\yy-3) rectangle (569.5,\yy+3);}
\draw[wt] (wfo.south-|564,0)--(564,909)--(if.west|-0,909);
\draw[wt] (wfo.south-|567.3,0)--(567.3,374)--(ia.west|-0,374);
\draw[wt] (ia.west|-0,378)--(567.3,378)--(567.3,480)--(ib.west|-0,480);
\draw[wt] (ib.west|-0,484)--(567.3,484)--(567.3,587)--(ic.west|-0,587);
\draw[wt] (ic.west|-0,591)--(567.3,591)--(567.3,692)--(id.west|-0,692);
\draw[wt] (id.west|-0,696)--(567.3,696)--(567.3,798)--(ie.west|-0,798);
\draw[wt] (ie.west|-0,802)--(567.3,802)--(567.3,905)--(if.west|-0,905);
\draw[wt] (567.3,268)--(asz.west|-0,268);
\draw[wt] (567.3,271.5)--(asz.west|-0,271.5);
\draw[wbk] (asz.east|-0,270)--(szl.west|-0,270);
\draw[wk] (ia.east|-0,376)--(ma-w|-0,376);
\draw[wk] (ib.east|-0,483.3)--(mb-w|-0,483.3);
\draw[wk] (ic.east|-0,590)--(mc-w|-0,590);
\draw[wk] (id.east|-0,696.6)--(md-w|-0,696.6);
\draw[wk] (ie.east|-0,803.5)--(me-w|-0,803.5);
\draw[wk] (if.east|-0,909.5)--(mf-w|-0,909.5);
\draw[wt] (su1.north-|688.5,0)--(688.5,395)--(ma-w|-0,395);
\draw[wt] (si1d.east|-0,560)--(760.8,560)--(760.8,505);
\draw[wt] (su2.north-|688.5,0)--(688.5,608.8)--(mc-w|-0,608.8);
\draw[wt] (si2.north-|706.8,0)--(706.8,715.8)--(md-w|-0,715.8);
\draw[wt] (su3.north-|720,0)--(720,822)--(me-w|-0,822);
\draw[wt] (si3.north-|705,0)--(705,929)--(mf-w|-0,929);
\draw[wb] (ku.south-|798,0)--(ca.north-|798,0);
% thin verticals
\draw[wt] (bua.west|-0,90)--(914.3,90)--(914.3,214.4)--(945.3,214.4)--(945.3,1075.7)--(sid.west|-0,1075.7);
\draw[wb] (kh.east|-0,67.6)--(964,67.6)--(964,70);
\draw[wt] (sid.east|-0,1075.7)--(1068.3,1075.7)--(si.south-|1068.3,0);
\draw[wt] (si.north-|1068.3,0)--(1068.3,931)--(bub.west|-0,931);
% rows
\draw[wk] (ma-tip)--(tra.center)--(957,386.5);
\draw[wk] (mb-tip)--(trb.center)--(tsb.west|-0,493);
\draw[wk] (mc-tip)--(trc.center)--(tsc.west|-0,599.5);
\draw[wk] (md-tip)--(trd.center)--(961,706.5);
\draw[wk] (me-tip)--(tre.center)--(1004,813.5);
\draw[wk] (mf-tip)--(trf.center)--(1007.7,919.5)--(1007.7,850.5)--(tsf.center);
\draw[wk] (baa.west|-0,201.5)--(957,201.5)--(957,410.7)--(tsa.center);
\draw[wk] (973,493)--(973,935)--(bab.west|-0,935);
\draw[wk] (987.7,599.5)--(987.7,217)--(baa.west|-0,217);
\draw[wk] (961,689.5)--(961,948)--(bab.west|-0,948);
\draw[wm] (961,689.5)--(tsd.center);
\draw[wk] (1004,813.5)--(1004,237)--(baa.west|-0,237);
\draw[wm] (1004,780)--(tse.center);
\draw[wk] (952,919.5)--(952,961)--(bab.west|-0,961);
% top/bottom array wires
\draw[wt] (baa.east|-0,218.3)--(1110.3,218.3)--(1110.3,181.8)--(938,181.8)--(938,107.7)--(bua.west|-0,107.7);
\draw[wt] (baa.east|-0,215)--(1106.3,215)--(1106.3,186)--(934.5,186)--(934.5,104.5)--(bua.west|-0,104.5);
\draw[wmag] (bua.east|-0,91)--(vl.west|-0,91);
\draw[wt] (bab.east|-0,945.6)--(1094.4,945.6)--(1096,943.8)--(bub.west|-0,943.8);
\draw[wt] (bab.east|-0,949)--(1098,949)--(1098,947.5)--(bub.west|-0,947.5);
\draw[wb] (ki.east|-0,916.5)--(bub.west|-0,916.5);
\draw[wmag] (bub.east|-0,930.8)--(1189.5,930.8)--(1189.5,956.5)--(cu.west|-0,956.5);
% samples
\draw[wt] (smpo.east|-0,1036)--(sb-w|-0,1036);
\draw[wt] (876.4,1036)--(876.4,990.8)--(1102.9,990.8)--(1102.9,807.6)--(1166,807.6)--(sca.south-|1166,0);
\draw[wbk] (szo.east|-0,1086)--(isz.west|-0,1086);
\draw[wb] (kj.east|-0,1108)--(isz.west|-0,1108);
\draw[wb] (isz.east|-0,1093.6)--(914.4,1093.6)--(914.4,1066);
\draw[wt] (sb-tip)--(si.west|-0,1048.5);
% upper right
\draw[wt] (smo.east|-0,267)--(1158.6,267)--(1158.6,259.7)--(mh-w|-0,259.7);
\draw[wt] (1158.6,267)--(1158.6,279.6)--(mh-w|-0,279.6);
\draw[wt] (s1o.east|-0,316)--(1133.4,316)--(1133.4,210.7)--(mg-w|-0,210.7);
\draw[wt] (1133.4,316)--(1133.4,336)--(1194.6,336)--(1194.6,348.6)--(de-w|-0,348.6);
\draw[wt] (1180,214)--(1180,223.6)--(sa-w|-0,223.6);
\draw[wt] (sa-w|-0,203.6)--(1229.4,203.6)--(1229.4,268.9)--(1216,268.9)--(1216,270)--(mh-tip|-0,270);
\draw[wt] (sa-tip)--(1294.7,213)--(1294.7,247)--(sq-w|-0,247);
\draw[wt] (1348.5,241)--(snd.south-|1348.5,0);
\draw[wt] (snd.east|-0,198.2)--(1383.2,198.2)--(1383.2,353)--(de-w|-0,353);
\draw[wt] (de-tip)--(1453.6,339.5)--(hpd.south-|1453.6,0);
\draw[wt] (s1v.south-|1491.6,0)--(1491.6,343)--(1535.3,343)--(uc.north-|1535.3,0);
\draw[wt] (ap.east|-0,107.9)--(1535.3,107.9)--(ub.north-|1535.3,0);
\draw[wt] (rp.east|-0,55.4)--(1535.3,55.4)--(ua.south-|1535.3,0);
\draw[wt] (act.north-|1435,0)--(1435,947)--(ud.west|-0,947);
% sequence inputs
\draw[wm] (tsa.center)--(1151,411)--(sca.north-|1151,0);
\draw[wm] (tsb.center)--(1071,492.5)--(1071,530)--(sca.west|-0,530);
\draw[wm] (tsc.east|-0,595.5)--(1056.6,595.5)--(1056.6,550)--(sca.west|-0,550);
\draw[wm] (tsd.east|-0,691)--(1076.4,691)--(1076.4,564.8)--(sca.west|-0,564.8);
\draw[wm] (tse.east|-0,775)--(1096.3,775)--(1096.3,579)--(sca.west|-0,579);
\draw[wm] (tsf.center)--(1152.6,850.5)--(sca.south-|1152.6,0);
% sequence inner thin
\draw[wt] (s1id.south-|1196.9,0)--(1196.9,536.5)--(sca.east|-0,536.5);
\draw[wt] (sca.east|-0,551.1)--(1236.3,551.1);
\draw[wt] (f1d.west|-0,458.8)--(1236.3,458.8)--(1236.3,618.2)--(adde.west|-0,618.2);
\draw[wt] (sca.east|-0,565.3)--(1341.9,565.3)--(1341.9,458.8)--(f2d.west|-0,458.8);
\draw[wt] (1301,565.3)--(1301,632.4)--(adde.west|-0,632.4);
\draw[wt] (sca.east|-0,580.2)--(1372.9,580.2)--(1372.9,578.4)--(f0.west|-0,578.4);
\draw[wt] (f0.west|-0,592.6)--(1269,592.6)--(1269,647)--(adde.west|-0,647);
\draw[wt] (f3.west|-0,496.8)--(1252.9,496.8)--(1252.9,748.8)--(qpf.west|-0,748.8);
\draw[wt] (f3d.west|-0,525.9)--(1261.7,525.9)--(1261.7,791.4)--(qpf.west|-0,791.4);
\draw[wt] (f3d.east|-0,525.9)--(oc.west|-0,525.9);
\draw[wt] (f3d.south-|1435.5,0)--(f0.north-|1435.5,0);
\draw[wt] (oa.north-|1486.2,0)--(1486.2,395.6)--(1366.9,395.6)--(1366.9,480.8)--(1290.9,480.8)--(1290.9,705.5)--(1341.9,705.5)--(qpf.north-|1341.9,0);
\draw[wt] (1296,699.8)--(1386.6,699.8)--(1386.6,748.8)--(qpf.east|-0,748.8);
\draw[wt] (pf.east|-0,723)--(1424.6,723)--(1424.6,636.3)--(od.west|-0,636.3);
\draw[wt] (df-tip)--(1424.6,641.5);
\draw[wt] (f0d.south-|1432,0)--(1432,641.5)--(1424.6,641.5);
\draw[wt] (adde.east|-0,632.4)--(df-w|-0,632.4);
\draw[wb] (kk.east|-0,679.6)--(1377.8,679.6)--(1377.8,659);
\draw[wt] (qpf.east|-0,762.7)--(1437.3,762.7)--(1437.3,687)--(oe.west|-0,687);
\draw[wt] (qpf.south-|1337.7,0)--(1337.7,806)--(oh.west|-0,806);
\draw[wt] (qpf.west|-0,773.7)--(1272.6,773.7)--(1272.6,844)--(1412,844)--(1412,773.7)--(1486.5,773.7)--(og.south-|1486.5,0);
\draw[wt] (pf.south-|1278.6,0)--(1278.6,764)--(qpf.west|-0,764);
\draw[wg] (pct.east|-0,849.7)--(1287.4,849.7)--(1287.4,815.6)--(1327.1,815.6)--(qpf.south-|1327.1,0);
% crossing gaps
\cutV{1.7}{945.3/386.5,945.3/493,945.3/599.5,945.3/706.5,945.3/813.5,945.3/919.5,945.3/990.8,973/599.5,973/689.5,973/813.5,973/919.5,961/813.5,961/919.5,1068.3/990.8,1133.4/267,1383.2/348.6,1341.9/496.8,1341.9/525.9,1412/806,1152.6/807.6}
\cutH{2}{987.7/410.7,1004/410.7,987.7/493,1004/493,1004/599.5,1004/689.5}
\cutH{1}{1102.9/850.5,1102.9/916.5,1102.9/931,1068.3/945.6,1252.9/565.3,1261.7/565.3,1290.9/565.3,1236.3/565.3,1252.9/580.2,1261.7/580.2,1290.9/580.2,1236.3/580.2,1290.9/496.8,1290.9/525.9,1290.9/592.6,1290.9/618.2,1252.9/618.2,1261.7/618.2,1290.9/647,1341.9/723,1386.6/723}
% brown
\draw[wbrn] (sca.north-|1166,0)--(1166,505)--(1213.5,505)--(1213.5,670.7)--(1302,670.7)--(1302,728.6)--(1327.8,728.6)--(qpf.north-|1327.8,0);
\end{pgfonlayer}
\draw[wg] (tfe.east|-0,1254)--(nt-w|-0,1254);
\draw[wg] (nt-tip)--(stp.west|-0,1254);
\end{tikzpicture}
\end{document}
